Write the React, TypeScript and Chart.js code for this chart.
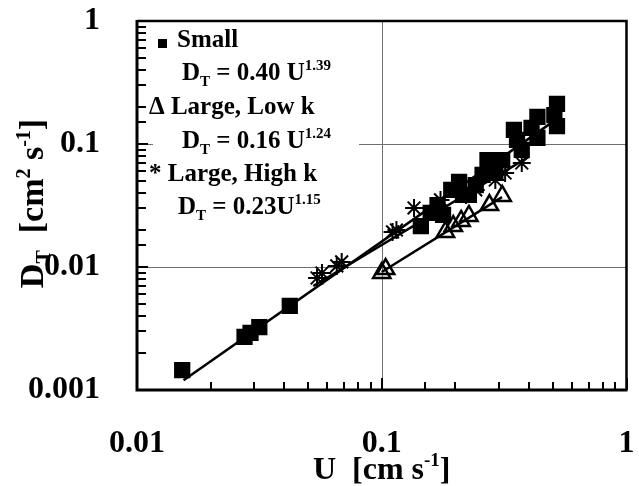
import React, { useEffect, useRef } from "react";
import { Chart, registerables } from "chart.js";

Chart.register(...registerables);

// ---- data ----
const smallU = [0.0153, 0.0275, 0.0291, 0.0316, 0.0421, 0.1445, 0.1585, 0.169, 0.178, 0.1923, 0.207, 0.2148, 0.227, 0.2421, 0.2582, 0.2704, 0.2911, 0.3105, 0.3467, 0.357, 0.3733, 0.4093, 0.4325, 0.4325, 0.5072, 0.52, 0.52];
const smallD = [0.00145, 0.0027, 0.00292, 0.00325, 0.00482, 0.0215, 0.0275, 0.0319, 0.0265, 0.0423, 0.0491, 0.0385, 0.0385, 0.0464, 0.056, 0.0741, 0.0592, 0.0741, 0.13, 0.108, 0.0894, 0.135, 0.166, 0.112, 0.172, 0.2115, 0.14];

const lowKU = [0.1, 0.1037, 0.182, 0.196, 0.211, 0.227, 0.2754, 0.3105];
const lowKD = [0.00894, 0.00963, 0.0193, 0.0215, 0.0237, 0.026, 0.0319, 0.0378];

const highKU = [0.0544, 0.057, 0.0655, 0.0686, 0.1107, 0.1148, 0.1355, 0.1738, 0.2208, 0.2421, 0.2911, 0.3192, 0.3733];
const highKD = [0.00814, 0.00894, 0.0102, 0.011, 0.0193, 0.02, 0.0302, 0.0351, 0.0385, 0.0423, 0.051, 0.0581, 0.0701];

// fitted lines (end points)
const smallFitU = [0.0155, 0.52];
const smallFitD = [0.0012, 0.16];
const lowKFitU = [0.1, 0.31];
const lowKFitD = [0.0091, 0.037];
const highKFitU = [0.0525, 0.4];
const highKFitD = [0.007, 0.079];

// axes
const xTickValues = [0.01, 0.1, 1];
const xTickLabels = ["0.01", "0.1", "1"];
const yTickValues = [0.001, 0.01, 0.1, 1];
const yTickLabels = ["0.001", "0.01", "0.1", "1"];
const xGridValues = [0.1];
const yGridValues = [0.01, 0.1];

const FONT = '"Liberation Serif", "Times New Roman", serif';

const pts = (u: number[], d: number[]) => u.map((v, i) => ({ x: v, y: d[i] }));

const isDecade = (v: number) => {
  const l = Math.log10(v);
  return Math.abs(l - Math.round(l)) < 1e-6;
};

type Part = [string, number, number];

function rich(ctx: CanvasRenderingContext2D, x: number, y: number, parts: Part[]) {
  let cx = x;
  for (const [t, size, dy] of parts) {
    ctx.font = `bold ${size}px ${FONT}`;
    ctx.fillText(t, cx, y + dy);
    cx += ctx.measureText(t).width;
  }
  return cx - x;
}

function richWidth(ctx: CanvasRenderingContext2D, parts: Part[]) {
  let w = 0;
  for (const [t, size] of parts) {
    ctx.font = `bold ${size}px ${FONT}`;
    w += ctx.measureText(t).width;
  }
  return w;
}

const decor = {
  id: "decor",
  beforeDatasetsDraw(chart: any) {
    const { ctx, chartArea: a, scales } = chart;
    const x = scales.x;
    const y = scales.y;
    ctx.save();
    // grid lines
    ctx.strokeStyle = "#707070";
    ctx.lineWidth = 1;
    ctx.beginPath();
    xGridValues.forEach((v) => {
      const px = Math.round(x.getPixelForValue(v)) + 0.5;
      ctx.moveTo(px, a.top);
      ctx.lineTo(px, a.bottom);
    });
    yGridValues.forEach((v) => {
      const py = Math.round(y.getPixelForValue(v)) + 0.5;
      ctx.moveTo(a.left, py);
      ctx.lineTo(a.right, py);
    });
    ctx.stroke();

    // legend box
    ctx.fillStyle = "#ffffff";
    ctx.fillRect(a.left + 16, a.top + 2, 206, 205);

    ctx.fillStyle = "#000";
    ctx.textBaseline = "alphabetic";
    ctx.textAlign = "left";
    const L = 25;
    const S = 15;
    ctx.fillRect(158, 39, 9, 9);
    rich(ctx, 177, 47, [["Small", L, 0]]);
    rich(ctx, 182, 80, [["D", L, 0], ["T", S, 6], [" = 0.40 U", L, 0], ["1.39", S, -10]]);
    rich(ctx, 149, 114, [["\u0394 Large, Low k", L, 0]]);
    rich(ctx, 182, 148, [["D", L, 0], ["T", S, 6], [" = 0.16 U", L, 0], ["1.24", S, -10]]);
    rich(ctx, 149, 181, [["* Large, High k", L, 0]]);
    rich(ctx, 178, 214, [["D", L, 0], ["T", S, 6], [" = 0.23U", L, 0], ["1.15", S, -10]]);

    // x title
    const xt: Part[] = [["U", 32, 0], ["  [cm s", 32, 0], ["-1", 19, -13], ["]", 32, 0]];
    const xw = richWidth(ctx, xt);
    rich(ctx, (a.left + a.right) / 2 - xw / 2, 479, xt);

    // y title
    const yt: Part[] = [["D", 34, 0], ["T", 20, 7], ["  [cm", 34, 0], ["2", 20, -13], [" s", 34, 0], ["-1", 20, -13], ["]", 34, 0]];
    const yw = richWidth(ctx, yt);
    ctx.translate(43, (a.top + a.bottom) / 2 - 2);
    ctx.rotate(-Math.PI / 2);
    rich(ctx, -yw / 2, 0, yt);
    ctx.restore();
  },
  afterDatasetsDraw(chart: any) {
    const { ctx, chartArea: a, scales } = chart;
    const x = scales.x;
    const y = scales.y;
    ctx.save();
    ctx.strokeStyle = "#000";
    ctx.lineWidth = 2;
    ctx.beginPath();
    x.ticks.forEach((t: any) => {
      const px = Math.round(x.getPixelForValue(t.value));
      const len = isDecade(t.value) ? 12 : 8;
      ctx.moveTo(px, a.bottom);
      ctx.lineTo(px, a.bottom - len);
    });
    y.ticks.forEach((t: any) => {
      const py = Math.round(y.getPixelForValue(t.value));
      const len = isDecade(t.value) ? 11 : 9;
      ctx.moveTo(a.left, py);
      ctx.lineTo(a.left + len, py);
    });
    ctx.stroke();
    ctx.lineWidth = 2.5;
    ctx.beginPath();
    ctx.moveTo(a.left, a.top);
    ctx.lineTo(a.right, a.top);
    ctx.lineTo(a.right, a.bottom);
    ctx.stroke();
    ctx.lineWidth = 3;
    ctx.beginPath();
    ctx.moveTo(a.left, a.top - 1);
    ctx.lineTo(a.left, a.bottom);
    ctx.lineTo(a.right + 1, a.bottom);
    ctx.stroke();
    ctx.restore();
  },
};

export default function App() {
  const ref = useRef<HTMLCanvasElement | null>(null);
  useEffect(() => {
    if (!ref.current) return;
    const lineDs = (u: number[], d: number[]) => ({
      type: "line" as const,
      data: pts(u, d),
      showLine: true,
      borderColor: "#000",
      borderWidth: 2.5,
      pointRadius: 0,
      fill: false,
    });
    const chart = new Chart(ref.current, {
      type: "scatter",
      data: {
        datasets: [
          {
            data: pts(smallU, smallD),
            pointStyle: "rect",
            radius: 11.5,
            backgroundColor: "#000",
            borderColor: "#000",
            borderWidth: 0,
          } as any,
          {
            data: pts(lowKU, lowKD),
            pointStyle: "triangle",
            radius: 10,
            backgroundColor: "rgba(0,0,0,0)",
            borderColor: "#000",
            borderWidth: 2.5,
          } as any,
          {
            data: pts(highKU, highKD),
            pointStyle: "star",
            radius: 9,
            backgroundColor: "rgba(0,0,0,0)",
            borderColor: "#000",
            borderWidth: 2,
          } as any,
          lineDs(smallFitU, smallFitD) as any,
          lineDs(lowKFitU, lowKFitD) as any,
          lineDs(highKFitU, highKFitD) as any,
        ],
      },
      options: {
        animation: false,
        responsive: false,
        devicePixelRatio: 1,
        layout: { padding: { top: 21, right: 3, left: 0, bottom: 0 } },
        plugins: { legend: { display: false }, tooltip: { enabled: false } },
        scales: {
          x: {
            type: "logarithmic",
            min: 0.01,
            max: 1,
            grid: { display: false },
            border: { display: false },
            ticks: {
              autoSkip: false,
              maxRotation: 0,
              minRotation: 0,
              padding: 27,
              color: "#000",
              font: { family: FONT, size: 32, weight: "bold" },
              callback: (v: any) => {
                const i = xTickValues.findIndex((t) => Math.abs(t - v) < t * 1e-6);
                return i >= 0 ? xTickLabels[i] : "";
              },
            },
            afterFit: (s: any) => {
              s.height = 96;
              s.paddingLeft = 0;
              s.paddingRight = 0;
            },
          },
          y: {
            type: "logarithmic",
            min: 0.001,
            max: 1,
            grid: { display: false },
            border: { display: false },
            ticks: {
              autoSkip: false,
              padding: 29,
              color: "#000",
              font: { family: FONT, size: 32, weight: "bold" },
              callback: (v: any) => {
                const i = yTickValues.findIndex((t) => Math.abs(t - v) < t * 1e-6);
                return i >= 0 ? yTickLabels[i] : "";
              },
            },
            afterFit: (s: any) => {
              s.width = 137;
              s.paddingTop = 0;
              s.paddingBottom = 0;
            },
          },
        },
      } as any,
      plugins: [decor],
    });
    return () => chart.destroy();
  }, []);
  return (
    <div style={{ position: "fixed", left: 0, top: 0, width: 639, height: 486, background: "#fff" }}>
      <canvas ref={ref} width={639} height={486} style={{ width: 639, height: 486, display: "block" }} />
    </div>
  );
}
